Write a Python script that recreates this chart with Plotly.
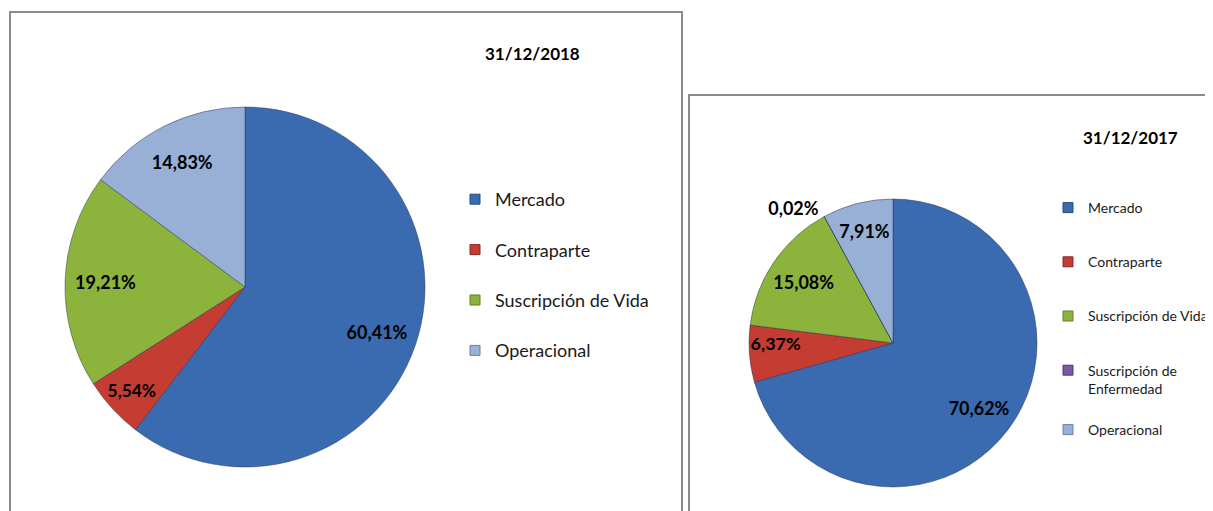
import plotly.graph_objects as go

# ---------------- data ----------------
categories_2018 = ["Mercado", "Contraparte", "Suscripción de Vida", "Operacional"]
values_2018 = [60.41, 5.54, 19.21, 14.83]

categories_2017 = ["Mercado", "Contraparte", "Suscripción de Vida",
                   "Suscripción de Enfermedad", "Operacional"]
values_2017 = [70.62, 6.37, 15.08, 0.02, 7.91]

chart_titles = ["31/12/2018", "31/12/2017"]

# ---------------- styles ----------------
color_map = {
    "Mercado": "#3A6BB1",
    "Contraparte": "#C43C32",
    "Suscripción de Vida": "#8CB43C",
    "Suscripción de Enfermedad": "#7B57A6",
    "Operacional": "#98AFD6",
}
edge_map = {
    "Mercado": "#1F4A85",
    "Contraparte": "#8E2620",
    "Suscripción de Vida": "#5F8225",
    "Suscripción de Enfermedad": "#533777",
    "Operacional": "#6681B0",
}
FONT = "Lato"
OFF = 8                      # page body margin
W, H = 1213 - OFF, 511 - OFF


def sx(x):  # screen px -> paper fraction
    return (x - OFF) / W


def sy(y):
    return 1 - (y - OFF) / H


fig = go.Figure()

pies = [
    dict(cats=categories_2018, vals=values_2018,
         dx=[sx(65), sx(425)], dy=[sy(467), sy(107)], hole=0.55,
         tpos=["inside"] * len(values_2018), fsize=18),
    dict(cats=categories_2017, vals=values_2017,
         dx=[sx(749), sx(1037)], dy=[sy(487), sy(199)], hole=0.5,
         tpos=["inside", "inside", "inside", "outside", "inside"], fsize=18),
]

for p in pies:
    cols = [color_map[c] for c in p["cats"]]
    # coloured pie (no text)
    fig.add_trace(go.Pie(
        labels=p["cats"], values=p["vals"], sort=False, direction="clockwise",
        rotation=0, marker=dict(colors=cols, line=dict(color="rgba(30,45,70,0.45)", width=1)),
        textinfo="none", hoverinfo="label+value", showlegend=False,
        domain=dict(x=p["dx"], y=p["dy"]),
    ))
    # transparent ring carrying the labels (puts them towards the outer edge)
    fig.add_trace(go.Pie(
        labels=p["cats"], values=p["vals"], sort=False, direction="clockwise",
        rotation=0, hole=p["hole"],
        marker=dict(colors=["rgba(0,0,0,0)"] * len(cols), line=dict(width=0)),
        texttemplate="<b>%{value:.2f}%</b>", textposition=p["tpos"],
        insidetextorientation="horizontal",
        textfont=dict(family=FONT, size=p["fsize"], color="black"),
        outsidetextfont=dict(family=FONT, size=p["fsize"], color="black"),
        hoverinfo="skip", showlegend=False,
        domain=dict(x=p["dx"], y=p["dy"]),
    ))

# legend entries
legend_of_2017 = {c: "legend2" for c in categories_2017}
legend_of_2017["Operacional"] = "legend3"
for cats, which in [(categories_2018, "a"), (categories_2017, "b")]:
    for c in cats:
        if which == "a":
            leg, name = "legend", c
        else:
            leg = legend_of_2017[c]
            name = c.replace("Suscripción de Enfermedad", "Suscripción de<br>Enfermedad")
        fig.add_trace(go.Scatter(
            x=[None], y=[None], mode="markers", name=name,
            marker=dict(symbol="square", size=10, color=color_map[c],
                        line=dict(color=edge_map[c], width=1)),
            legend=leg, legendgroup=which + c, hoverinfo="skip",
        ))

shapes = [
    dict(type="rect", xref="paper", yref="paper",
         x0=sx(10), x1=sx(682), y0=-0.05, y1=sy(12),
         line=dict(color="#8C8C8C", width=2), fillcolor="rgba(0,0,0,0)", layer="below"),
    dict(type="rect", xref="paper", yref="paper",
         x0=sx(689), x1=1.05, y0=-0.05, y1=sy(95),
         line=dict(color="#8C8C8C", width=2), fillcolor="rgba(0,0,0,0)", layer="below"),
]

annotations = [
    dict(text="<b>%s</b>" % chart_titles[0], x=sx(532), y=sy(53),
         xref="paper", yref="paper", showarrow=False, xanchor="center", yanchor="middle",
         font=dict(family=FONT, size=17, color="black")),
    dict(text="<b>%s</b>" % chart_titles[1], x=sx(1130), y=sy(137),
         xref="paper", yref="paper", showarrow=False, xanchor="center", yanchor="middle",
         font=dict(family=FONT, size=17, color="black")),
]

leg_common = dict(xanchor="left", yanchor="top", bgcolor="rgba(0,0,0,0)")
fig.update_layout(
    width=W, height=H,
    margin=dict(l=0, r=0, t=0, b=0),
    paper_bgcolor="white", plot_bgcolor="white",
    separators=",.",
    xaxis=dict(visible=False), yaxis=dict(visible=False),
    shapes=shapes, annotations=annotations,
    legend=dict(x=sx(455), y=sy(181), font=dict(family=FONT, size=18, color="#1A1A1A"),
                tracegroupgap=24, valign="middle", **leg_common),
    legend2=dict(x=sx(1048), y=sy(192), font=dict(family=FONT, size=14, color="#1A1A1A"),
                 tracegroupgap=33, valign="top", **leg_common),
    legend3=dict(x=sx(1048), y=sy(414), font=dict(family=FONT, size=14, color="#1A1A1A"),
                 valign="top", **leg_common),
    showlegend=True,
)

fig.write_html("out.html")
